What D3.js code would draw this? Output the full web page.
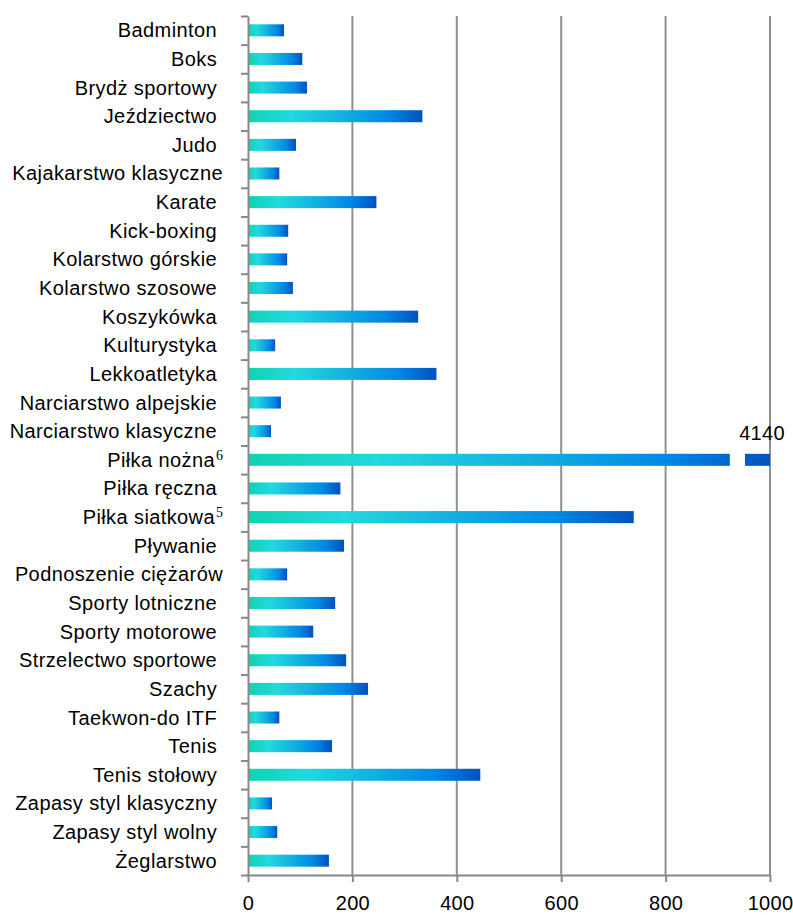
<!DOCTYPE html>
<html>
<head>
<meta charset="utf-8">
<script src="https://cdn.jsdelivr.net/npm/d3@7"></script>
<style>
  body { margin: 0; background: white; }
  text { font-family: "Liberation Sans", Arial, sans-serif; fill: #000; }
</style>
</head>
<body>
<div id="chart"></div>
<script>
// categories, top to bottom (trailing spaces kept like in the source labels)
const categories = [
  "Badminton ", "Boks ", "Brydż sportowy ", "Jeździectwo ", "Judo ",
  "Kajakarstwo klasyczne", "Karate ", "Kick-boxing ", "Kolarstwo górskie ",
  "Kolarstwo szosowe ", "Koszykówka ", "Kulturystyka ", "Lekkoatletyka ",
  "Narciarstwo alpejskie ", "Narciarstwo klasyczne ", "Piłka nożna",
  "Piłka ręczna ", "Piłka siatkowa", "Pływanie ", "Podnoszenie ciężarów",
  "Sporty lotniczne ", "Sporty motorowe ", "Strzelectwo sportowe ", "Szachy ",
  "Taekwon-do ITF ", "Tenis ", "Tenis stołowy ", "Zapasy styl klasyczny ",
  "Zapasy styl wolny ", "Żeglarstwo "
];
const values = [
  69, 104, 113, 334, 92,
  60, 246, 77, 75,
  86, 326, 52, 361,
  63, 44, 4140,
  177, 739, 184, 75,
  167, 125, 188, 230,
  60, 161, 445, 46,
  56, 155
];
// footnote marks shown as superscripts
const footnotes = { "Piłka nożna": "6", "Piłka siatkowa": "5" };
const xTicks = [0, 200, 400, 600, 800, 1000];
const xMax = 1000;
const breakGap = [923, 952]; // axis break drawn on the off-scale bar

const dim = { width: 793, height: 918 };
const plot = { left: 248, right: 770, top: 16, bottom: 875 };

const svg = d3.select('#chart').append('svg')
    .attr('width', dim.width)
    .attr('height', dim.height);

const x = d3.scaleLinear().domain([0, xMax]).range([plot.left, plot.right]);
const y = d3.scaleBand().domain(categories)
    .range([plot.top, plot.bottom])
    .paddingInner(0.58).paddingOuter(0.29);
const yEdge = d3.scaleLinear().domain([0, categories.length]).range([plot.top, plot.bottom]);

// gradient for the bars
const grad = svg.append('defs').append('linearGradient')
    .attr('id', 'barGrad')
    .attr('x1', 0).attr('y1', 0).attr('x2', 1).attr('y2', 0);
[[0, '#0fd3b1'], [0.25, '#22d9df'], [0.55, '#12aee0'], [0.8, '#0088e6'], [1, '#0052bd']]
  .forEach(s => grad.append('stop').attr('offset', s[0]).attr('stop-color', s[1]));

// gridlines
svg.append('g').selectAll('line')
  .data(xTicks.filter(d => d > 0))
  .join('line')
    .attr('x1', d => x(d)).attr('x2', d => x(d))
    .attr('y1', plot.top).attr('y2', plot.bottom)
    .attr('stroke', '#909090').attr('stroke-width', 2);

// bars
svg.append('g').selectAll('rect')
  .data(values)
  .join('rect')
    .attr('x', x(0))
    .attr('y', (d, i) => y(categories[i]))
    .attr('width', d => x(Math.min(d, xMax)) - x(0))
    .attr('height', y.bandwidth())
    .attr('fill', 'url(#barGrad)');

// break on the bar that runs off the scale
values.forEach((v, i) => {
  if (v <= xMax) return;
  svg.append('rect')
    .attr('x', x(breakGap[0]))
    .attr('y', y(categories[i]) - 1)
    .attr('width', x(breakGap[1]) - x(breakGap[0]))
    .attr('height', y.bandwidth() + 2)
    .attr('fill', 'white');
  svg.append('text')
    .attr('x', x(xMax) - 8)
    .attr('y', y(categories[i]) - 14)
    .attr('text-anchor', 'middle')
    .style('font-size', '20px')
    .style('letter-spacing', '0.3px')
    .text(v);
});

// y axis: line with ticks at category boundaries
const yAxis = svg.append('g')
    .attr('transform', `translate(${plot.left},0)`)
    .call(d3.axisLeft(yEdge).tickValues(d3.range(categories.length + 1))
      .tickFormat('').tickSize(7).tickSizeOuter(0));
yAxis.select('.domain').attr('stroke', '#888').attr('stroke-width', 2);
yAxis.selectAll('.tick line').attr('stroke', '#888').attr('stroke-width', 2);

// x axis
const xAxis = svg.append('g')
    .attr('transform', `translate(0,${plot.bottom})`)
    .call(d3.axisBottom(x).tickValues(xTicks).tickFormat(d3.format('d'))
      .tickSize(7).tickSizeOuter(0).tickPadding(14));
xAxis.select('.domain').attr('stroke', '#888').attr('stroke-width', 2);
xAxis.selectAll('.tick line').attr('stroke', '#888').attr('stroke-width', 2);
xAxis.selectAll('.tick text')
    .style('font-size', '20px')
    .style('letter-spacing', '0.3px')
    .style('font-family', '"Liberation Sans", Arial, sans-serif')
    .attr('fill', '#000');

// category labels
const labels = svg.append('g').selectAll('text')
  .data(categories)
  .join('text')
    .attr('x', 223)
    .attr('y', d => y(d) + y.bandwidth() / 2)
    .attr('dy', '0.35em')
    .attr('text-anchor', 'end')
    .style('font-size', '20px')
    .style('letter-spacing', '0.4px')
    .style('white-space', 'pre');
labels.append('tspan').text(d => d);
labels.filter(d => footnotes[d])
  .append('tspan')
    .attr('dx', 1)
    .attr('dy', '-0.5em')
    .style('font-family', '"Liberation Serif", "Times New Roman", serif')
    .style('font-size', '14px')
    .style('letter-spacing', '0')
    .text(d => footnotes[d]);
</script>
</body>
</html>
